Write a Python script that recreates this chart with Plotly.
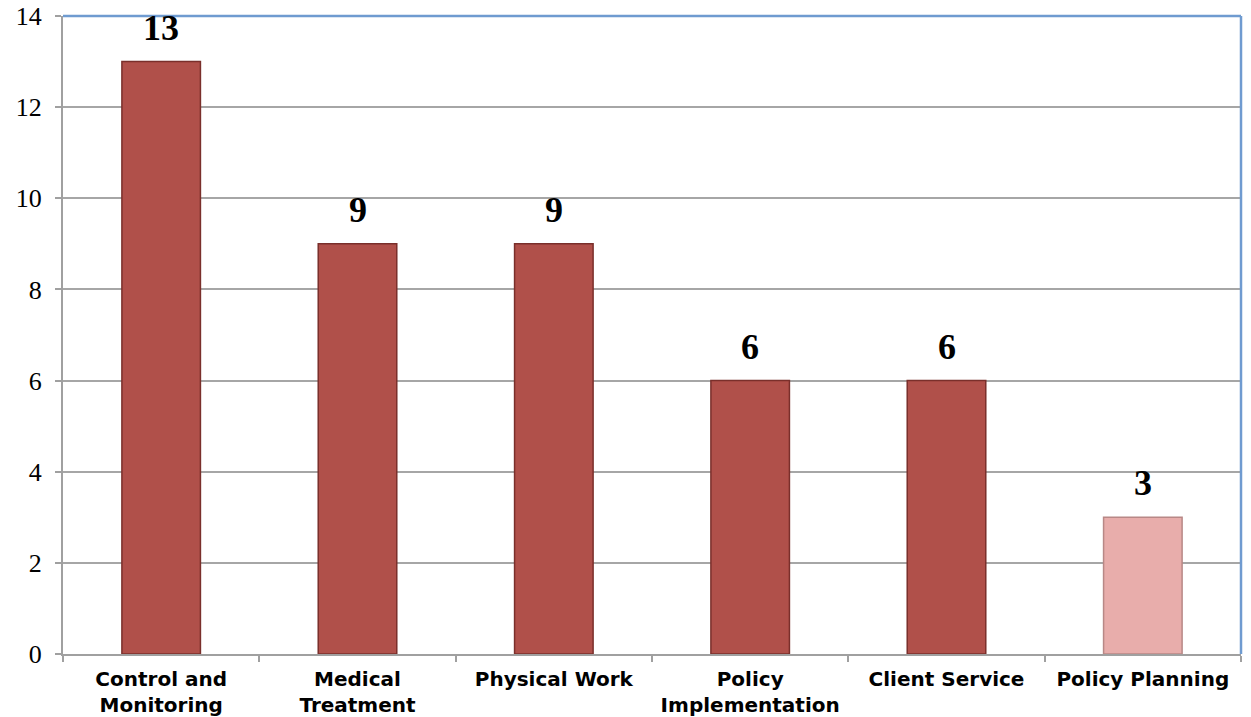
import plotly.graph_objects as go

categories = ["Control and<br>Monitoring", "Medical<br>Treatment", "Physical Work",
              "Policy<br>Implementation", "Client Service", "Policy Planning"]
values = [13, 9, 9, 6, 6, 3]
bar_colors = ["#b0504a", "#b0504a", "#b0504a", "#b0504a", "#b0504a", "#e8adab"]
edge_colors = ["#7a2f2b", "#7a2f2b", "#7a2f2b", "#7a2f2b", "#7a2f2b", "#b88886"]
y_ticks = [0, 2, 4, 6, 8, 10, 12, 14]

fig = go.Figure()
fig.add_trace(go.Bar(
    x=categories, y=values,
    marker=dict(color=bar_colors, line=dict(color=edge_colors, width=1.5)),
    width=0.4, hoverinfo="skip",
))

for c, v in zip(categories, values):
    fig.add_annotation(x=c, y=v, text=f"<b>{v}</b>", showarrow=False,
                       yanchor="bottom", yshift=12,
                       font=dict(family="Liberation Serif", size=36, color="black"))

fig.add_shape(type="line", xref="paper", yref="paper", x0=0, x1=1, y0=1, y1=1,
              line=dict(color="#6f9bd0", width=2.5))
fig.add_shape(type="line", xref="paper", yref="paper", x0=1, x1=1, y0=0, y1=1,
              line=dict(color="#6f9bd0", width=2.5))

fig.update_layout(
    width=1251, height=717,
    margin=dict(l=63, r=10, t=16, b=63, autoexpand=False),
    paper_bgcolor="white", plot_bgcolor="white",
    showlegend=False,
    bargap=0.6,
)
fig.update_yaxes(
    range=[0, 14], tickvals=y_ticks, ticktext=[str(t) for t in y_ticks],
    showgrid=True, gridcolor="#a6a6a6", gridwidth=1.5,
    showline=True, linecolor="#a0a0a0", linewidth=2,
    ticks="outside", ticklen=6, tickcolor="#a0a0a0", tickwidth=2,
    tickfont=dict(family="Liberation Serif", size=26, color="black"),
    ticklabelstandoff=8,
    zeroline=False, automargin=False,
)
fig.update_xaxes(
    showline=True, linecolor="#a0a0a0", linewidth=2,
    ticks="outside", ticklen=6, tickcolor="#a0a0a0", tickwidth=2,
    tickson="boundaries", tickangle=0, ticklabelstandoff=6,
    tickfont=dict(family="DejaVu Sans", size=20, color="black", weight="bold"),
    showgrid=False, automargin=False,
)

fig.write_html("out.html", config={"displayModeBar": False},
               post_script="document.body.style.margin='0';document.body.style.overflow='hidden';")
